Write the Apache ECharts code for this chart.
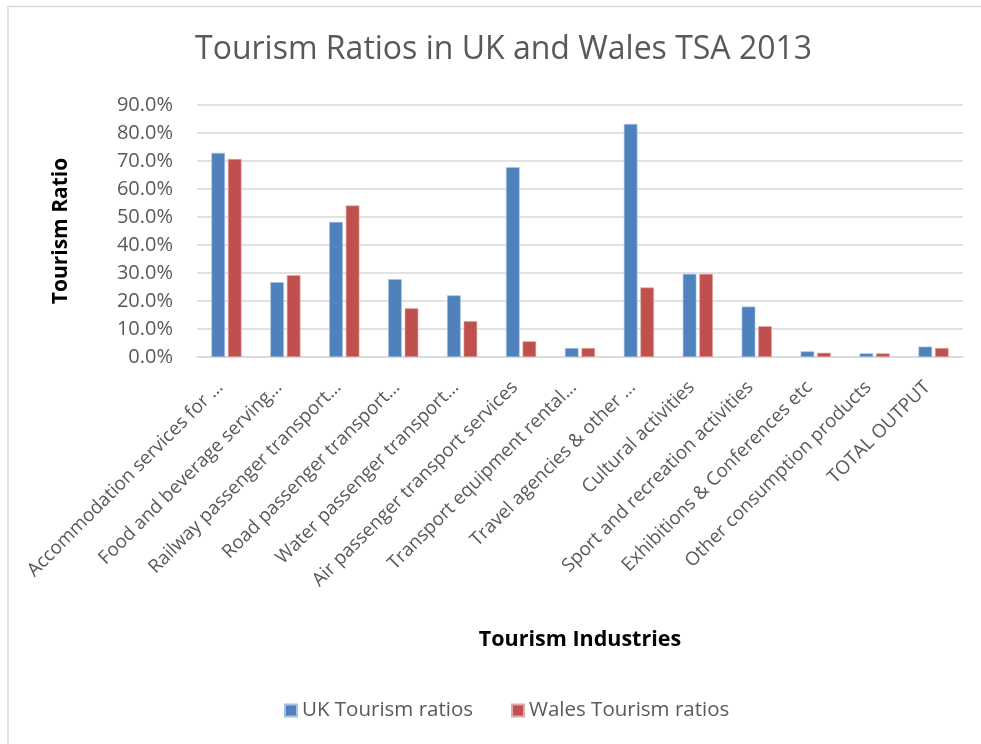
<!DOCTYPE html>
<html>
<head>
<meta charset="utf-8">
<script src="https://cdn.jsdelivr.net/npm/echarts@6/dist/echarts.min.js"></script>
<style>
html,body{margin:0;padding:0;background:#fff;}
#main{width:981px;height:744px;}
</style>
</head>
<body>
<div id="main"></div>
<script>
const categories = [
  "Accommodation services for …",
  "Food and beverage serving…",
  "Railway passenger transport…",
  "Road passenger transport…",
  "Water passenger transport…",
  "Air passenger transport services",
  "Transport equipment rental…",
  "Travel agencies & other …",
  "Cultural activities",
  "Sport and recreation activities",
  "Exhibitions & Conferences etc",
  "Other consumption products",
  "TOTAL OUTPUT"
];
const ukRatios =    [72.9, 26.7, 48.2, 27.8, 22.0, 67.8, 3.2, 83.2, 29.7, 18.0, 2.0, 1.3, 3.7];
const walesRatios = [70.7, 29.2, 54.1, 17.4, 12.8, 5.6, 3.2, 24.8, 29.7, 11.0, 1.5, 1.3, 3.2];
const yTicks = [0, 10, 20, 30, 40, 50, 60, 70, 80, 90];

const chart = echarts.init(document.getElementById('main'), null, {renderer: 'canvas'});
const font = '"Open Sans", "Noto Sans", sans-serif';
chart.setOption({
  backgroundColor: '#fff',
  animation: false,
  title: {
    text: 'Tourism Ratios in UK and Wales TSA 2013',
    left: 190,
    top: 29,
    textStyle: {fontFamily: font, fontSize: 32, fontWeight: 'normal', color: '#595959'}
  },
  legend: {
    bottom: 18,
    left: 279,
    itemWidth: 12,
    itemHeight: 12,
    itemGap: 38,
    icon: 'rect',
    textStyle: {fontFamily: font, fontSize: 20.5, color: '#595959'},
    data: ['UK Tourism ratios', 'Wales Tourism ratios']
  },
  grid: {left: 197, right: 18, top: 105, bottom: 387, containLabel: false},
  xAxis: {
    type: 'category',
    data: categories,
    axisTick: {show: false},
    axisLine: {show: true, lineStyle: {color: '#d9d9d9', width: 1.5}},
    axisLabel: {
      interval: 0, rotate: 45, margin: 21, padding: [0, 9, 0, 0],
      fontFamily: font, fontSize: 18.8, color: '#595959'
    }
  },
  yAxis: {
    type: 'value',
    min: 0, max: 90, interval: 10,
    axisLine: {show: false},
    axisTick: {show: false},
    splitLine: {lineStyle: {color: '#d9d9d9', width: 1.5}},
    axisLabel: {
      margin: 24,
      fontFamily: font, fontSize: 20, color: '#595959',
      formatter: v => yTicks.includes(v) ? v.toFixed(1) + '%' : ''
    }
  },
  series: [
    {
      name: 'UK Tourism ratios', type: 'bar', data: ukRatios,
      barWidth: '23%', barGap: '22%',
      itemStyle: {color: '#4F81BD', borderColor: '#a9c1e0', borderWidth: 0.6}
    },
    {
      name: 'Wales Tourism ratios', type: 'bar', data: walesRatios,
      barWidth: '23%', barGap: '22%',
      itemStyle: {color: '#C0504D', borderColor: '#e0a8a6', borderWidth: 0.6}
    }
  ],
  graphic: [
    {type: 'rect', shape: {x: 8, y: 6.5, width: 1200, height: 1000}, style: {fill: 'none', stroke: '#d9d9d9', lineWidth: 1.5}, silent: true},
    {type: 'text', x: 61, y: 231, rotation: Math.PI / 2,
     style: {text: 'Tourism Ratio', fontFamily: font, fontSize: 21, fontWeight: 'bold', fill: '#000', align: 'center', verticalAlign: 'middle'}},
    {type: 'text', x: 580, y: 640,
     style: {text: 'Tourism Industries', fontFamily: font, fontSize: 21.5, fontWeight: 'bold', fill: '#000', align: 'center', verticalAlign: 'middle'}}
  ]
});
</script>
</body>
</html>
